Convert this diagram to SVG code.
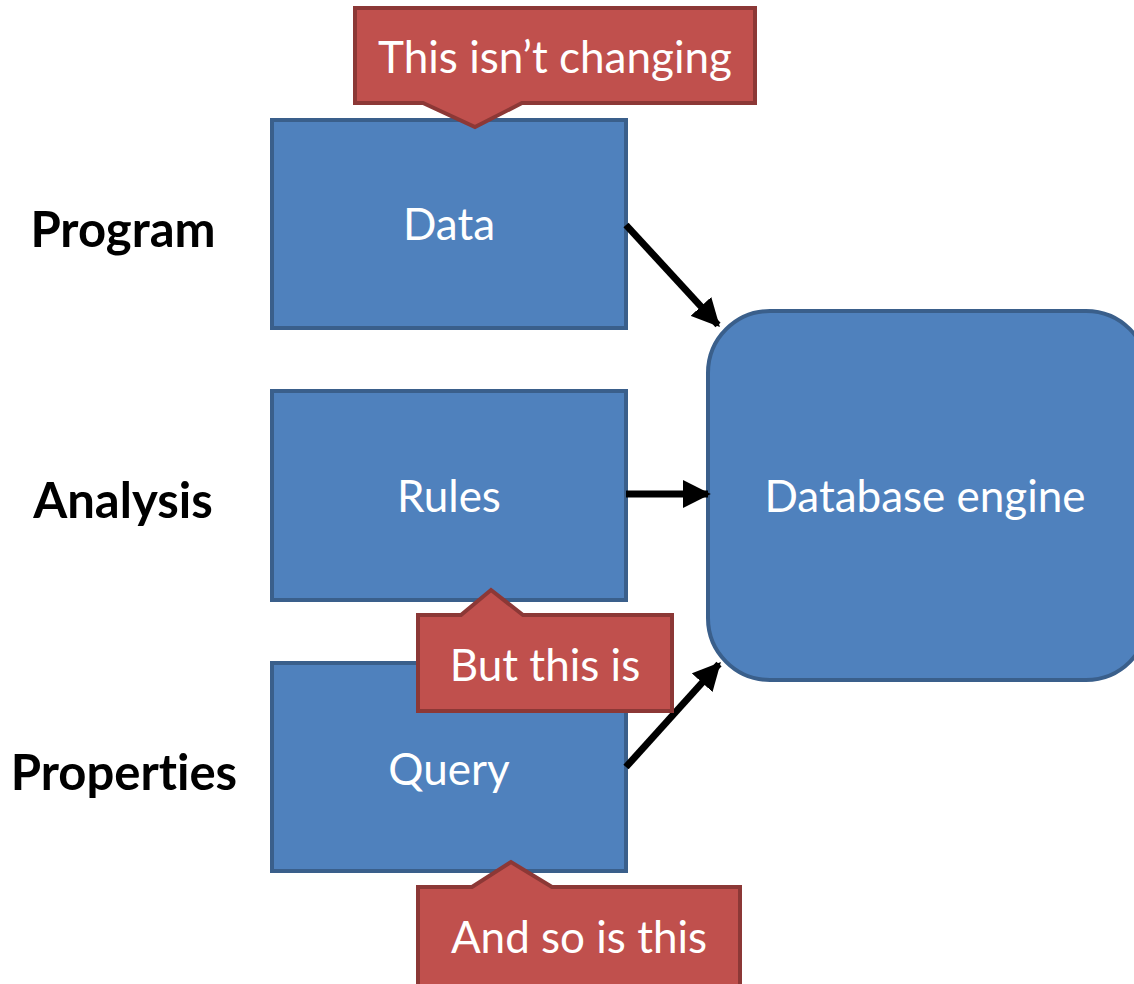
<svg xmlns="http://www.w3.org/2000/svg" width="1134" height="984" viewBox="0 0 1134 984">
  <defs>
    <style>
      .box { fill: #4F81BD; stroke: #3A5F8B; stroke-width: 4; }
      .call { fill: #C0504D; stroke: #8C3836; stroke-width: 4; stroke-linejoin: miter; }
      .txt { font-family: Lato, "Open Sans", "Liberation Sans", sans-serif; fill: #FFFFFF; font-size: 44px; text-anchor: middle; font-variant-ligatures: none; }
      .lbl { font-family: Lato, "Open Sans", "Liberation Sans", sans-serif; fill: #000000; font-size: 49px; font-weight: bold; text-anchor: middle; font-variant-ligatures: none; }
      .conn { stroke: #000000; stroke-width: 7; fill: none; }
    </style>
    <marker id="head" viewBox="0 0 10 10" refX="9" refY="5" markerWidth="4" markerHeight="4" orient="auto" markerUnits="strokeWidth">
      <path d="M0,0 L10,5 L0,10 z" fill="#000000"/>
    </marker>
  </defs>

  <!-- row labels -->
  <g id="label-program"><text class="lbl" x="123" y="247">Program</text></g>
  <g id="label-analysis"><text class="lbl" x="123" y="518">Analysis</text></g>
  <g id="label-properties"><text class="lbl" x="124" y="790">Properties</text></g>

  <!-- input boxes -->
  <g id="node-data">
    <rect class="box" x="272" y="120" width="354" height="208"/>
    <text class="txt" x="449" y="240">Data</text>
  </g>
  <g id="node-rules">
    <rect class="box" x="272" y="391" width="354" height="209"/>
    <text class="txt" x="449" y="512">Rules</text>
  </g>
  <g id="node-query">
    <rect class="box" x="272" y="663" width="354" height="208"/>
    <text class="txt" x="449" y="785">Query</text>
  </g>

  <!-- engine -->
  <g id="node-engine">
    <rect class="box" x="708" y="311" width="440" height="369" rx="62" ry="62"/>
    <text class="txt" x="925" y="512">Database engine</text>
  </g>

  <!-- connectors -->
  <g id="connectors">
    <line class="conn" x1="626" y1="225" x2="718" y2="325" marker-end="url(#head)"/>
    <line class="conn" x1="626" y1="494" x2="708" y2="494" marker-end="url(#head)"/>
    <line class="conn" x1="626" y1="767" x2="719" y2="664" marker-end="url(#head)"/>
  </g>

  <!-- callouts -->
  <g id="callout-unchanged">
    <path class="call" d="M355,8 H755 V103 H522 L475,127 L423,103 H355 Z"/>
    <text class="txt" x="555" y="73">This isn’t changing</text>
  </g>
  <g id="callout-rules">
    <path class="call" d="M418,615 H461 L491,590 L523,615 H672 V711 H418 Z"/>
    <text class="txt" x="545" y="681">But this is</text>
  </g>
  <g id="callout-query">
    <path class="call" d="M418,887 H472 L511,862 L552,887 H740 V990 H418 Z"/>
    <text class="txt" x="579" y="953">And so is this</text>
  </g>
</svg>
